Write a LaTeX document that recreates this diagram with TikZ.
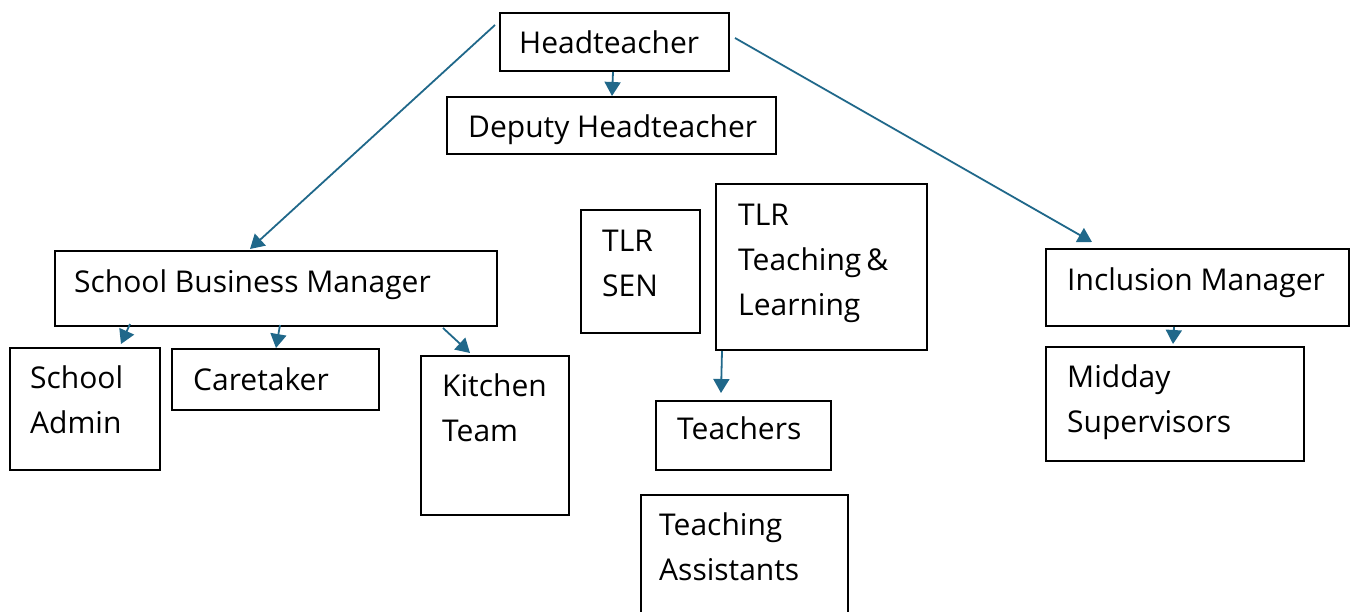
\documentclass[tikz,border=0pt]{standalone}
\usepackage{fontspec}
\setmainfont{Open Sans}
\usetikzlibrary{arrows.meta}
\definecolor{linkblue}{RGB}{32,104,138}

\begin{document}
\begin{tikzpicture}[x=1pt, y=-1pt,
	box/.style={draw=black, line width=2pt, inner sep=0pt, anchor=north west},
	txt/.style={anchor=base west, inner sep=0pt, align=left, font=\fontsize{30pt}{45pt}\selectfont},
	link/.style={linkblue, line width=1.8pt, -{Triangle[width=16pt,length=14pt]}}]
	\path[use as bounding box, clip] (0,0) rectangle (1350,611);

	% Boxes
	\node[box, minimum width=229pt, minimum height=58pt] (head) at (499,12) {};
	\node[box, minimum width=329pt, minimum height=57pt] (dep) at (446,96) {};
	\node[box, minimum width=442pt, minimum height=75pt] (sbm) at (54,250) {};
	\node[box, minimum width=150pt, minimum height=122pt] (admin) at (9,347) {};
	\node[box, minimum width=207pt, minimum height=61pt] (care) at (171,348) {};
	\node[box, minimum width=148pt, minimum height=159pt] (kitchen) at (420,355) {};
	\node[box, minimum width=119pt, minimum height=123pt] (sen) at (580,209) {};
	\node[box, minimum width=211pt, minimum height=166pt] (tl) at (715,183) {};
	\node[box, minimum width=175pt, minimum height=69pt] (teach) at (655,400) {};
	\node[box, minimum width=207pt, minimum height=130pt] (ta) at (640,494) {};
	\node[box, minimum width=303pt, minimum height=77pt] (incl) at (1045,248) {};
	\node[box, minimum width=258pt, minimum height=114pt] (mid) at (1045,346) {};

	% Texts (base = last line)
	\node[txt] (headtxt) at (519,53) {Headteacher};
	\node[txt] (deptxt) at (468,137) {Deputy Headteacher};
	\node[txt] (sbmtxt) at (74,292) {School Business Manager};
	\node[txt] (admintxt) at (30,433) {School\\Admin};
	\node[txt] (caretxt) at (193,390) {Caretaker};
	\node[txt] (kitchentxt) at (442,441) {Kitchen\\Team};
	\node[txt] (sentxt) at (602,296) {TLR\\SEN};
	\node[txt] (tltxt) at (738,315) {TLR\\Teaching\,\&\\Learning};
	\node[txt] (teachtxt) at (677,439) {Teachers};
	\node[txt] (tatxt) at (659,580) {Teaching\\Assistants};
	\node[txt] (incltxt) at (1067,290) {Inclusion Manager};
	\node[txt] (midtxt) at (1067,432) {Midday\\Supervisors};

	% Connectors
	\draw[link] ([xshift=-4pt,yshift=-13pt]head.north west) -- ([xshift=196pt,yshift=1pt]sbm.north west);
	\draw[link] ([xshift=114pt]head.south west) -- ([xshift=166pt]dep.north west);
	\draw[link] ([xshift=5pt,yshift=-26pt]head.north east) -- ([xshift=47pt,yshift=6pt]incl.north west);
	\draw[link] ([xshift=76pt,yshift=3pt]sbm.south west) -- ([xshift=112pt,yshift=3pt]admin.north west);
	\draw[link] ([xshift=226pt,yshift=2pt]sbm.south west) -- ([xshift=105pt]care.north west);
	\draw[link] ([xshift=389pt,yshift=-1pt]sbm.south west) -- ([xshift=50pt,yshift=2pt]kitchen.north west);
	\draw[link] ([xshift=7pt]tl.south west) -- ([xshift=66pt,yshift=7pt]teach.north west);
	\draw[link] ([xshift=129pt]incl.south west) -- ([xshift=128pt,yshift=2pt]mid.north west);
\end{tikzpicture}
\end{document}
